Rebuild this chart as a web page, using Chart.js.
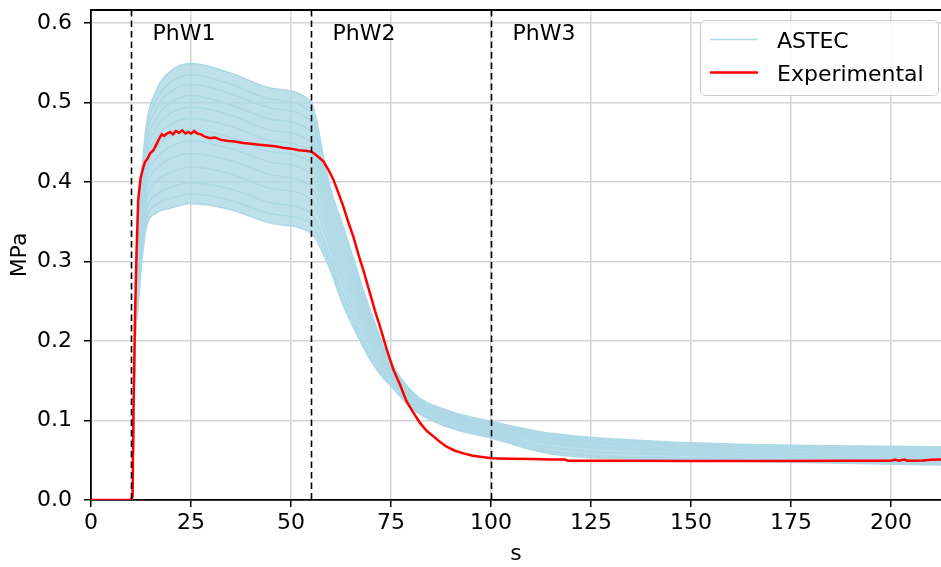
<!DOCTYPE html>
<html>
<head>
<meta charset="utf-8">
<title>PhW pressure</title>
<script src="https://cdn.jsdelivr.net/npm/chart.js@4.4.1/dist/chart.umd.min.js"></script>
<style>
  html, body { margin: 0; padding: 0; background: #ffffff; }
  canvas { display: block; }
</style>
</head>
<body>
<canvas id="chart" width="941" height="567"></canvas>
<script>
// {{{ data
// time base shared by every ASTEC run (s)
const astecTime = [0, 10.3, 11, 11.8, 12.7, 13.9, 16.4, 19.75, 25, 35, 45, 55, 56.5, 58, 60, 63, 66, 68, 70, 72.5, 75, 81, 89, 100, 115, 150, 212.5];

// ASTEC runs (MPa), highest first, lowest last
const astecRuns =
[
  [0, 0, 0.220, 0.330, 0.410, 0.474, 0.516, 0.539, 0.549, 0.537, 0.518, 0.501, 0.475, 0.435, 0.390, 0.345, 0.298, 0.265, 0.236, 0.201, 0.173, 0.133, 0.113, 0.099, 0.084, 0.072, 0.067],
  [0, 0, 0.218, 0.323, 0.401, 0.464, 0.504, 0.525, 0.535, 0.523, 0.504, 0.488, 0.463, 0.425, 0.382, 0.337, 0.291, 0.259, 0.231, 0.198, 0.171, 0.131, 0.111, 0.097, 0.082, 0.070, 0.065],
  [0, 0, 0.216, 0.317, 0.394, 0.455, 0.493, 0.513, 0.523, 0.511, 0.493, 0.476, 0.453, 0.416, 0.375, 0.330, 0.285, 0.254, 0.227, 0.194, 0.169, 0.130, 0.110, 0.095, 0.080, 0.069, 0.064],
  [0, 0, 0.213, 0.311, 0.385, 0.444, 0.480, 0.499, 0.509, 0.497, 0.479, 0.463, 0.441, 0.406, 0.366, 0.322, 0.278, 0.248, 0.222, 0.191, 0.166, 0.128, 0.108, 0.094, 0.078, 0.067, 0.062],
  [0, 0, 0.211, 0.304, 0.376, 0.434, 0.468, 0.486, 0.494, 0.484, 0.465, 0.450, 0.429, 0.396, 0.358, 0.314, 0.272, 0.243, 0.217, 0.187, 0.164, 0.127, 0.107, 0.092, 0.076, 0.065, 0.060],
  [0, 0, 0.208, 0.297, 0.367, 0.423, 0.456, 0.472, 0.480, 0.470, 0.452, 0.437, 0.417, 0.386, 0.350, 0.306, 0.265, 0.237, 0.212, 0.184, 0.161, 0.125, 0.105, 0.091, 0.074, 0.063, 0.058],
  [0, 0, 0.206, 0.290, 0.358, 0.413, 0.443, 0.458, 0.466, 0.456, 0.438, 0.424, 0.405, 0.376, 0.342, 0.298, 0.258, 0.231, 0.207, 0.180, 0.159, 0.123, 0.103, 0.089, 0.072, 0.062, 0.056],
  [0, 0, 0.204, 0.283, 0.350, 0.403, 0.431, 0.444, 0.452, 0.442, 0.425, 0.410, 0.393, 0.366, 0.333, 0.290, 0.251, 0.225, 0.202, 0.177, 0.157, 0.122, 0.102, 0.087, 0.070, 0.060, 0.054],
  [0, 0, 0.201, 0.276, 0.340, 0.391, 0.417, 0.429, 0.436, 0.427, 0.409, 0.395, 0.380, 0.355, 0.324, 0.281, 0.244, 0.219, 0.197, 0.173, 0.154, 0.120, 0.100, 0.085, 0.067, 0.058, 0.052],
  [0, 0, 0.198, 0.267, 0.329, 0.378, 0.401, 0.412, 0.419, 0.410, 0.392, 0.379, 0.365, 0.343, 0.314, 0.271, 0.235, 0.212, 0.191, 0.168, 0.151, 0.118, 0.098, 0.083, 0.065, 0.056, 0.050],
  [0, 0, 0.195, 0.258, 0.317, 0.364, 0.384, 0.393, 0.399, 0.391, 0.374, 0.361, 0.348, 0.329, 0.302, 0.260, 0.226, 0.204, 0.184, 0.164, 0.148, 0.115, 0.095, 0.081, 0.062, 0.053, 0.048],
  [0, 0, 0.192, 0.251, 0.308, 0.353, 0.372, 0.379, 0.385, 0.377, 0.360, 0.348, 0.336, 0.319, 0.294, 0.252, 0.219, 0.198, 0.179, 0.160, 0.145, 0.113, 0.093, 0.079, 0.060, 0.052, 0.046],
  [0, 0, 0.190, 0.245, 0.300, 0.344, 0.361, 0.367, 0.373, 0.365, 0.348, 0.336, 0.326, 0.310, 0.287, 0.245, 0.213, 0.193, 0.175, 0.157, 0.143, 0.112, 0.092, 0.078, 0.058, 0.050, 0.044]
];

// measured pressure (s, MPa)
const expTime = [0, 10, 10.4, 10.6, 11, 11.4, 11.8, 12.4, 13.1, 13.5, 14.2, 14.75, 15.6, 16.5, 17.2, 17.7, 18.3, 19, 19.75, 20.5,
  21.2, 22, 22.8, 23.6, 24.3, 25, 25.8, 26.6, 27.5, 28.5, 29.75, 31, 32.5, 34, 36, 38, 40, 42, 44, 46,
  48, 50, 52, 54, 55.2, 56.5, 58.1, 59.4, 60.6, 61.8, 63.1, 64.3, 65.6, 66.8, 68.1, 69.75, 71, 72.25, 73.9, 75.6,
  77.25, 78.9, 80.6, 82.25, 83.9, 85.6, 87.3, 88.9, 91, 93.1, 95.2, 97.25, 100.2, 105, 110, 115, 118.5, 119.2, 130, 150,
  170, 190, 200, 201, 202, 203.3, 204.2, 208, 210, 212.5];
const expPressure = [0, 0, 0.004, 0.105, 0.23, 0.314, 0.377, 0.405, 0.419, 0.425, 0.43, 0.436, 0.44, 0.449, 0.456, 0.46, 0.458, 0.461, 0.463, 0.46,
  0.464, 0.462, 0.465, 0.461, 0.463, 0.461, 0.464, 0.461, 0.46, 0.457, 0.455, 0.456, 0.453, 0.452, 0.451, 0.449, 0.448, 0.447, 0.446, 0.445,
  0.443, 0.442, 0.44, 0.439, 0.438, 0.433, 0.426, 0.415, 0.403, 0.387, 0.369, 0.35, 0.331, 0.31, 0.289, 0.26, 0.238, 0.218, 0.19, 0.164,
  0.145, 0.124, 0.11, 0.097, 0.087, 0.08, 0.073, 0.067, 0.062, 0.0587, 0.056, 0.0545, 0.0524, 0.052, 0.0515, 0.051, 0.0508, 0.0495, 0.0494, 0.0492,
  0.0492, 0.0493, 0.0493, 0.051, 0.0495, 0.051, 0.0495, 0.0498, 0.0505, 0.051];

// phase windows
const phaseStart = [10, 55, 100];
const phaseName = ['PhW1', 'PhW2', 'PhW3'];
// }}}

const font = '"DejaVu Sans", sans-serif';
const blue = '#add8e6';

// {{{ roundRect()
function roundRect(ctx, x, y, w, h, r)
{
  ctx.beginPath();
  ctx.moveTo(x + r, y);
  ctx.arcTo(x + w, y, x + w, y + h, r);
  ctx.arcTo(x + w, y + h, x, y + h, r);
  ctx.arcTo(x, y + h, x, y, r);
  ctx.arcTo(x, y, x + w, y, r);
  ctx.closePath();
}
// }}}

// {{{ phases plugin: dashed window boundaries, labels and top spine
const phases =
{
  id: 'phases',
  afterDatasetsDraw(chart)
  {
    const ctx = chart.ctx;
    const area = chart.chartArea;
    const x = chart.scales.x;
    ctx.save();
    ctx.strokeStyle = '#000000';
    ctx.lineWidth = 1.6;
    ctx.setLineDash([6.5, 4]);
    ctx.font = '22px ' + font;
    ctx.fillStyle = '#000000';
    ctx.textBaseline = 'alphabetic';
    phaseStart.forEach((t, i) =>
    {
      const px = Math.round(x.getPixelForValue(t)) + 0.5;
      ctx.beginPath();
      ctx.moveTo(px, area.top);
      ctx.lineTo(px, area.bottom);
      ctx.stroke();
      ctx.fillText(phaseName[i], px + 21, area.top + 30);
    });
    ctx.setLineDash([]);
    ctx.lineWidth = 1.8;
    ctx.beginPath();
    ctx.moveTo(area.left, area.top);
    ctx.lineTo(area.right, area.top);
    ctx.stroke();
    ctx.restore();
  }
};
// }}}

// {{{ legend plugin
const legendBox =
{
  id: 'legendBox',
  afterDraw(chart)
  {
    const ctx = chart.ctx;
    const area = chart.chartArea;
    const sets = chart.data.datasets;
    const items = [sets[0], sets[sets.length - 1]];
    const w = 238, h = 75;
    const left = area.right - 3 - w;
    const top = area.top + 10;
    ctx.save();
    roundRect(ctx, left + 0.5, top + 0.5, w, h, 5);
    ctx.fillStyle = 'rgba(255, 255, 255, 0.8)';
    ctx.fill();
    ctx.strokeStyle = '#cccccc';
    ctx.lineWidth = 1;
    ctx.stroke();
    ctx.font = '22px ' + font;
    ctx.textBaseline = 'alphabetic';
    items.forEach((d, i) =>
    {
      const y = top + 19.5 + i * 33;
      ctx.strokeStyle = d.borderColor;
      ctx.lineWidth = d.borderWidth;
      ctx.beginPath();
      ctx.moveTo(left + 10, y);
      ctx.lineTo(left + 58, y);
      ctx.stroke();
      ctx.fillStyle = '#000000';
      ctx.fillText(d.label, left + 77, y + 8);
    });
    ctx.restore();
  }
};
// }}}

// {{{ datasets
let datasets = astecRuns.map((run, i) =>
({
  label: 'ASTEC',
  data: run.map((v, j) => ({x: astecTime[j], y: v})),
  borderColor: blue,
  borderWidth: 1.5,
  pointRadius: 0,
  cubicInterpolationMode: 'monotone',
  // the top run fills down to the lowest run so the ensemble reads as a band
  fill: (i == 0) ? astecRuns.length - 1 : false,
  backgroundColor: 'rgba(173, 216, 230, 0.8)',
  order: 1
}));
datasets.push(
{
  label: 'Experimental',
  data: expTime.map((t, j) => ({x: t, y: expPressure[j]})),
  borderColor: '#ff0000',
  borderWidth: 2.5,
  pointRadius: 0,
  fill: false,
  order: 0
});
// }}}

new Chart(document.getElementById('chart'),
{
  type: 'line',
  data: {datasets: datasets},
  plugins: [phases, legendBox],
  options:
  {
    responsive: false,
    animation: false,
    devicePixelRatio: 1,
    layout: {padding: {top: 10, right: 0, bottom: 0, left: 0}},
    plugins:
    {
      legend: {display: false},
      tooltip: {enabled: false},
      filler: {drawTime: 'beforeDatasetsDraw'}
    },
    scales:
    {
      x:
      {
        type: 'linear',
        min: 0,
        max: 212.5,
        afterFit: (scale) =>
        {
          scale.height = 67;
          scale.paddingLeft = 0;
          scale.paddingRight = 0;
        },
        ticks: {stepSize: 25, includeBounds: false, padding: 3, color: '#000000', font: {family: font, size: 22}, maxRotation: 0},
        grid: {color: '#d5d5d5', lineWidth: 1.5, tickColor: '#000000', tickLength: 7},
        border: {color: '#000000', width: 1.8},
        title: {display: true, text: 's', color: '#000000', font: {family: font, size: 22}, padding: {top: 0, bottom: 0}}
      },
      y:
      {
        type: 'linear',
        min: 0,
        max: 0.6164,
        afterFit: (scale) =>
        {
          scale.width = 91;
          scale.paddingTop = 0;
          scale.paddingBottom = 0;
        },
        ticks: {stepSize: 0.1, includeBounds: false, padding: 12, color: '#000000', font: {family: font, size: 22}, callback: (v) => v.toFixed(1)},
        grid: {color: '#d5d5d5', lineWidth: 1.5, tickColor: '#000000', tickLength: 7},
        border: {color: '#000000', width: 1.8},
        title: {display: true, text: 'MPa', color: '#000000', font: {family: font, size: 22}, padding: {top: 7, bottom: 0}}
      }
    }
  }
});
</script>
</body>
</html>
